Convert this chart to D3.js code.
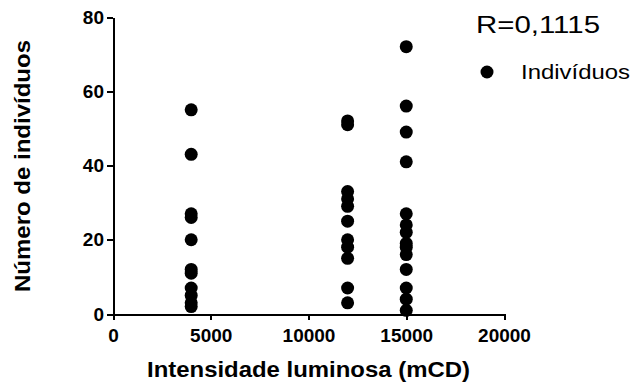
<!DOCTYPE html>
<html>
<head>
<meta charset="utf-8">
<script src="https://cdn.jsdelivr.net/npm/d3@7"></script>
<style>
  body { margin: 0; background: #fff; }
  svg text { font-family: "Liberation Sans", Arial, Helvetica, sans-serif; fill: #000; }
  .axis path, .axis line { stroke: #000; stroke-width: 2px; shape-rendering: crispEdges; }
  .axis text { font-size: 19px; font-weight: bold; }
</style>
</head>
<body>
<div id="chart"></div>
<script>
(function(){

var width = 634;
var height = 385;

// light intensity groups (mCD)
var intensities = [4000, 12000, 15000];
// number of individuals per sample
var counts4000 = [55, 43, 27, 26, 20, 12, 11, 7, 5, 3, 2];
var counts12000 = [52, 51, 33, 31, 29, 25, 20, 18, 15, 7, 3];
var counts15000 = [72, 56, 49, 41, 27, 24, 22, 19, 18, 16, 12, 7, 4, 1];

var xTicks = [0, 5000, 10000, 15000, 20000];
var yTicks = [0, 20, 40, 60, 80];

var rLabel = "R=0,1115";
var seriesName = "Indivíduos";

var svg = d3.select("#chart")
  .append("svg")
  .attr("width", width)
  .attr("height", height);

var x = d3.scaleLinear().domain([0, 20000]).range([113, 504]);
var y = d3.scaleLinear().domain([0, 80]).range([314, 17]);

// flatten into points
var groups = [counts4000, counts12000, counts15000];
var data = [];
groups.forEach(function(arr, i) {
  arr.forEach(function(v) { data.push({x: intensities[i], y: v}); });
});

svg.append("g")
    .attr("class", "axis")
    .attr("transform", "translate(0," + y(0) + ")")
    .call(d3.axisBottom(x).tickValues(xTicks).tickSize(6).tickSizeOuter(0).tickPadding(9).tickFormat(d3.format("d")));

svg.append("g")
    .attr("class", "axis")
    .attr("transform", "translate(" + x(0) + ",0)")
    .call(d3.axisLeft(y).tickValues(yTicks).tickSize(6).tickSizeOuter(0).tickPadding(3));

svg.selectAll("circle.pt")
    .data(data)
  .enter().append("circle")
    .attr("class", "pt")
    .attr("r", 6.5)
    .attr("cx", function(d) { return x(d.x); })
    .attr("cy", function(d) { return y(d.y); })
    .attr("fill", "#000");

// axis titles
svg.append("text")
    .attr("x", (x(0) + x(20000)) / 2)
    .attr("y", 377)
    .attr("text-anchor", "middle")
    .attr("font-size", 22)
    .attr("font-weight", "bold")
    .attr("textLength", 323)
    .attr("lengthAdjust", "spacingAndGlyphs")
    .text("Intensidade luminosa (mCD)");

svg.append("text")
    .attr("transform", "translate(30,166) rotate(-90)")
    .attr("text-anchor", "middle")
    .attr("font-size", 22)
    .attr("font-weight", "bold")
    .attr("textLength", 252)
    .attr("lengthAdjust", "spacingAndGlyphs")
    .text("Número de indivíduos");

// legend
svg.append("text")
    .attr("x", 476)
    .attr("y", 33)
    .attr("font-size", 24)
    .attr("textLength", 124)
    .attr("lengthAdjust", "spacingAndGlyphs")
    .text(rLabel);

svg.append("circle")
    .attr("cx", 487)
    .attr("cy", 72)
    .attr("r", 6.5)
    .attr("fill", "#000");

svg.append("text")
    .attr("x", 521)
    .attr("y", 79)
    .attr("font-size", 21)
    .attr("textLength", 109)
    .attr("lengthAdjust", "spacingAndGlyphs")
    .text(seriesName);

})();
</script>
</body>
</html>
